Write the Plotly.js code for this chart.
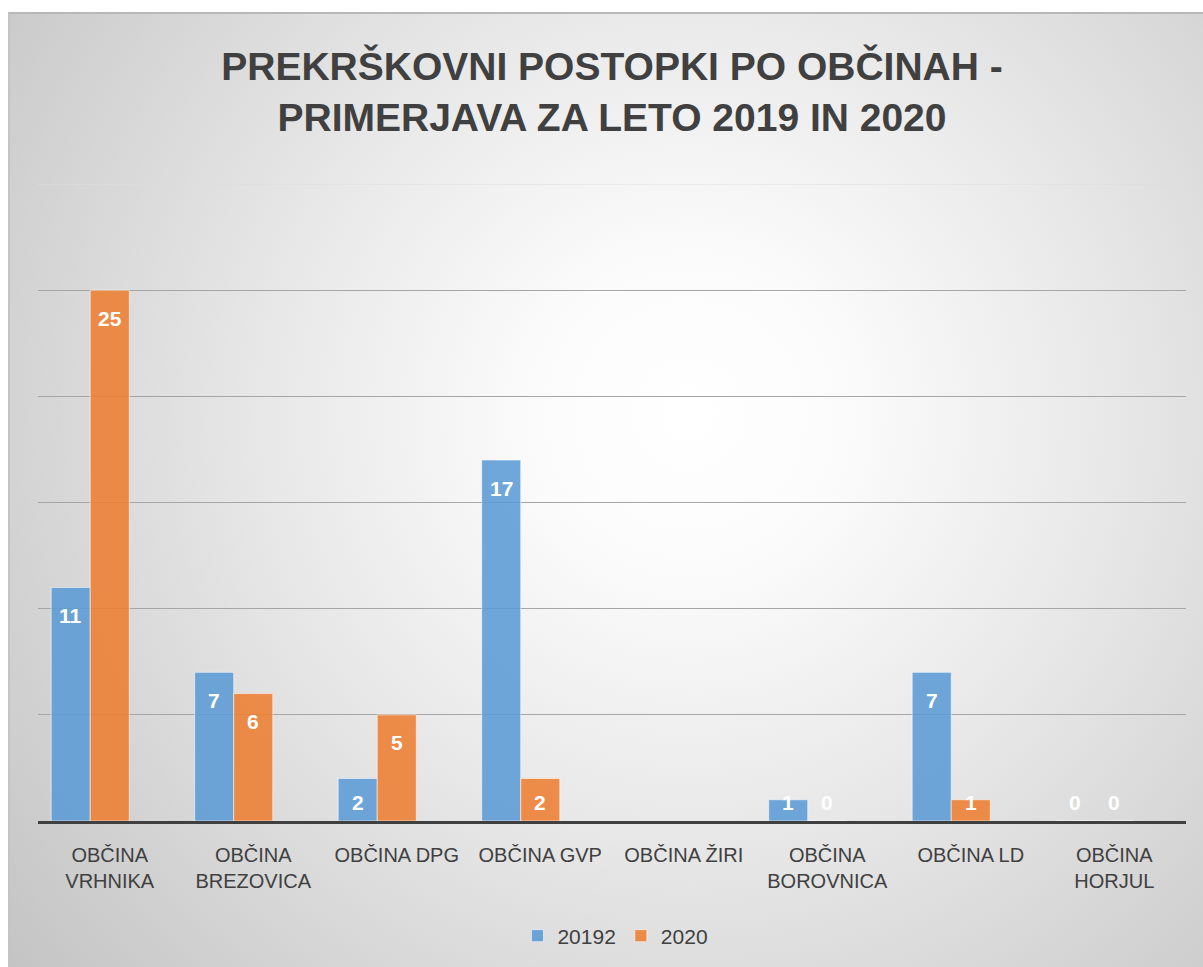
<!DOCTYPE html>
<html>
<head>
<meta charset="utf-8">
<script src="https://cdn.plot.ly/plotly-3.0.1.min.js"></script>
<style>
  html, body { margin: 0; padding: 0; background: #ffffff; }
  #frame {
    position: absolute; left: 8px; top: 12px; width: 1195px; height: 955px;
    background: radial-gradient(circle farthest-corner at 57% 42%, #ffffff 0%, #fbfbfb 18%, #e8e8e8 48%, #d3d3d3 78%, #c4c4c4 100%);
    border-top: 2px solid #b8b8b8; border-left: 2px solid #c4c4c4; box-sizing: border-box;
  }
  #chart { position: absolute; left: 0; top: 0; width: 1203px; height: 967px; }
</style>
</head>
<body>
<div id="frame"></div>
<div id="chart"></div>
<script>
const categories = ['OBČINA<br>VRHNIKA', 'OBČINA<br>BREZOVICA', 'OBČINA DPG', 'OBČINA GVP', 'OBČINA ŽIRI', 'OBČINA<br>BOROVNICA', 'OBČINA LD', 'OBČINA<br>HORJUL'];
const seriesNames = ['20192', '2020'];
const values2019 = [11, 7, 2, 17, null, 1, 7, 0];
const values2020 = [25, 6, 5, 2, null, 0, 1, 0];
const titleText = 'PREKRŠKOVNI POSTOPKI PO OBČINAH -<br>PRIMERJAVA ZA LETO 2019 IN 2020';

const W = 1203, H = 967;
const margin = {l: 38, r: 17, t: 184, b: 145};
const yMax = 30;
const pxPerUnit = (H - margin.t - margin.b) / yMax;
const barW = 0.272;
const blue = 'rgba(91,155,213,0.88)';
const orange = 'rgba(237,125,49,0.88)';
const textColor = '#404040';
const font = 'Liberation Sans, Arial, sans-serif';

const traces = [
  {type: 'bar', name: seriesNames[0], x: categories, y: values2019, width: barW, offset: -0.408,
   marker: {color: blue, line: {color: 'rgba(255,255,255,0.55)', width: 1}}, hoverinfo: 'skip'},
  {type: 'bar', name: seriesNames[1], x: categories, y: values2020, width: barW, offset: -0.136,
   marker: {color: orange, line: {color: 'rgba(255,255,255,0.55)', width: 1}}, hoverinfo: 'skip'}
];

function labelAnnotations(vals, xshift) {
  const out = [];
  vals.forEach((v, i) => {
    if (v === null) return;
    const shift = -Math.min(28, v * pxPerUnit - 19);
    out.push({x: categories[i], y: v, xref: 'x', yref: 'y', text: String(v), showarrow: false,
      xshift: xshift, yshift: shift, yanchor: 'middle', xanchor: 'center',
      font: {family: font, size: 21, color: '#ffffff', weight: 'bold'}});
  });
  return out;
}
const annotations = labelAnnotations(values2019, -39).concat(labelAnnotations(values2020, 0));

const layout = {
  width: W, height: H,
  margin: margin,
  paper_bgcolor: 'rgba(0,0,0,0)', plot_bgcolor: 'rgba(0,0,0,0)',
  title: {text: titleText, x: 0.5, xref: 'paper', y: 1 - 80 / H, yref: 'container', yanchor: 'top',
    font: {family: font, size: 39, color: textColor, weight: 'bold'}},
  barmode: 'group',
  showlegend: true,
  legend: {orientation: 'h', x: 0.503, xanchor: 'center', y: -114 / (H - margin.t - margin.b), yanchor: 'middle',
    font: {family: font, size: 21, color: textColor}, bgcolor: 'rgba(0,0,0,0)', itemclick: false},
  xaxis: {type: 'category', showgrid: false, showline: true, linecolor: '#404040', linewidth: 3,
    ticks: '', ticklabelstandoff: 14, tickfont: {family: font, size: 20, color: textColor}, fixedrange: true},
  yaxis: {range: [0, yMax], dtick: 5, showticklabels: false, showgrid: true, gridcolor: '#a6a6a6', gridwidth: 1,
    zeroline: false, ticks: '', fixedrange: true},
  shapes: [{type: 'line', xref: 'paper', yref: 'y', x0: 0, x1: 1, y0: yMax, y1: yMax, line: {color: '#dedede', width: 1}}],
  annotations: annotations
};

Plotly.newPlot('chart', traces, layout, {displayModeBar: false, staticPlot: true});
</script>
</body>
</html>
